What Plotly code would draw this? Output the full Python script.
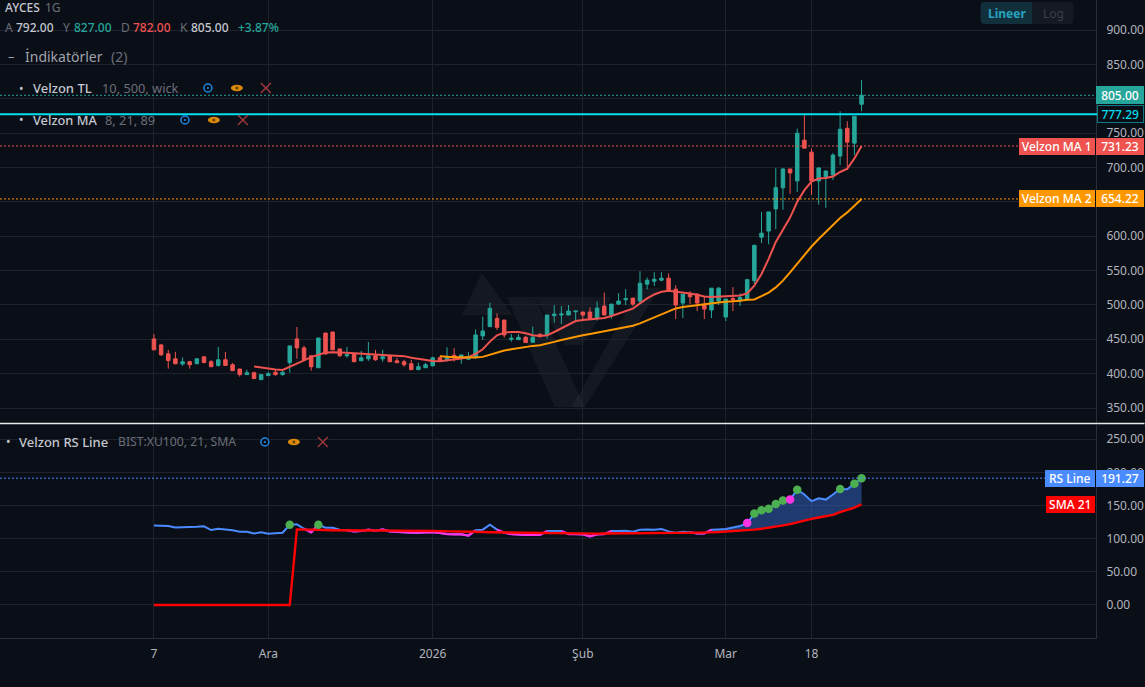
import plotly.graph_objects as go

W, H = 1145, 687
PLOT_W, PLOT_H = 1096.5, 638

BG = '#0a0e17'
GRID = '#1e222d'
AXIS = '#2a2e39'
TICK = '#b2b5be'
TEAL = '#26a69a'
RED = '#ef5350'
ORANGE = '#ff9800'
BLUE = '#4a8cff'
CYAN = '#00dfee'

# daily bars, 7 Kas 2025 -> Mar 2026
opens = [450.5,441.8,428.8,421.6,414,417.3,414.4,424.5,417.3,412,
         420.2,413,406.7,398.6,401.4,391.3,397.1,401.9,398.6,415.9,
         450.5,437.5,426,408.6,459.1,460.6,436,426,428.8,418.7,
         421.6,426,421.6,426,418.7,417.3,414.4,405.8,408.6,411.5,
         423,420.1,426.8,422.5,421,423.9,454.9,468.4,480.4,478,
         450,449.5,452.9,445.7,457.3,456.3,484.3,485.3,485.3,490.1,
         489.6,489.6,480.4,498.3,485.3,501.2,507.5,509.9,505.6,530.2,
         534.5,536,538.9,522.9,502.7,515.7,515.7,499.8,492.5,505.6,
         482.4,509.4,506,507.4,535.3,598.5,607.4,639.7,670.3,697.8,
         680.4,739.7,722.3,680.4,686.2,689.1,716.6,757,735.4,792]
highs = [457.7,443.3,434.6,431.7,423.6,418.7,422,425,419.7,438.9,
         431.7,415.4,407.2,405.8,402.9,399.5,402.9,405.8,404.3,440.4,
         467.8,440.4,426,451.9,459.1,460.6,436,438.9,428.8,433.2,
         446.2,434.6,434.6,426,423.1,420.2,420.2,415.9,415.9,424.5,
         424.9,438.4,437,427.3,431.2,464.5,482.9,503.1,487.7,478,
         457.7,457.7,454.8,468.4,458.7,485.3,499.8,498.3,499.8,491.1,
         490.1,496.4,505.1,518.1,501.2,517.2,523,510.4,549,539.9,
         547.6,547.6,545.7,528.7,515.7,520,516.7,512.8,524.4,525.9,
         508.5,525.9,517,537.4,586.8,635.3,635.3,699.2,699.2,697.8,
         756.6,775.9,727.7,700.2,694.9,720.9,781.7,767.2,774.4,827]
lows = [434.6,426,407.2,413.5,411.5,407.2,414.4,414.9,410.1,410.1,
        411.5,404.3,395.7,398.6,392.8,391.3,397.1,397.1,397.1,401.4,
        421.6,418.7,404.3,408.6,427.4,434.6,424.5,423.1,417.3,418.7,
        418.7,418.7,417.3,417.3,415.9,410.1,405.8,405.8,408.6,410.6,
        417.7,417.7,417.7,414.3,420.1,422,449,468.4,463.5,452.4,
        446.6,449.5,445.2,445.7,452.4,451,474.2,472.2,485.3,475.6,
        478,478,477.1,485.3,480,499.8,499.8,498.3,502.2,522.5,
        527.3,534.5,519.1,479.5,480.9,501.2,491.1,479.5,480.9,499.8,
        476.6,491.1,498.5,506,530.4,590.2,588.2,610.3,638.4,661.6,
        664.5,728.1,660.1,645.7,641.3,681.8,703.5,696.3,718,782]
closes = [434.6,427.4,419.2,414.4,417.3,413,421.6,416.3,410.1,420.2,
          412,404.3,398.6,401.4,392.8,398.6,400,398.6,401.9,440.4,
          437.5,420.2,410.1,451.9,428.8,434.6,426,427.4,417.3,423.1,
          426,420.2,424.5,417.3,415.9,413,405.8,410.1,413,423.1,
          419.1,423.9,423.9,427.3,424.9,456.3,462.1,494.9,467.4,456.3,
          451.5,452.9,445.2,452.9,453.9,485.3,486.7,486.7,491.1,491.1,
          485.3,479,495.4,485.3,501.2,505.6,509.4,501.2,531.6,536,
          537.4,538.9,520,499.8,515.7,511.8,502.7,494,524.4,524.4,
          508.5,508,510.8,536.8,586.8,604.4,635.3,670.6,697.8,692,
          749.8,728.1,680.4,699.2,694.9,718,755.6,736.8,774.4,805]

# Velzon MA 1 starts at bar 14, MA 2 at bar 40
ma1_start = 14
ma1 = [410.6,408.8,407.2,406.2,405.3,409.6,414.4,419.2,424,427.9,
       430.8,431.2,431.2,430.4,429.8,429.3,428.8,428.3,427.9,427.4,
       426.9,425.5,423.1,421.2,419.2,418.3,418.1,419.1,421,422,
       423.9,428.8,435.5,446.6,455.8,459.7,460.6,460.6,458.7,455.8,
       454.9,455.8,460.6,466,471.8,476.6,478,479,480,480.9,
       483.8,487.7,491.6,494.5,502.2,509.4,515.2,519.1,520.5,519.6,
       518.1,516.7,514.7,512.3,511.4,511.8,512.8,513.3,513.8,516.7,
       528,545,567,591.7,609.8,627,650,667,679.4,683.8,
       684.7,686.7,693.4,698.2,713.2,731.23]
ma2_start = 40
ma2 = [425.4,424.4,424,424,423.5,423.5,424.4,427.8,430.7,433.6,
       435.5,437.5,438.9,440.4,441.3,443.3,446.2,449,451.5,453.9,
       455.8,457.7,459.7,461.6,463.5,465,466.9,469.8,473.2,477.6,
       482.4,487.2,491.6,494.9,496.9,498.3,500.3,501.7,503.2,503.6,
       504.6,505.1,506,507.5,508,512.7,518,525.5,535.3,547.3,
       560,573,585,596,606,616,626.4,634.6,644,654.22]

rs_line = [120,119.6,119,117,117,117.6,118,118.6,113,115,
           114,112.6,110.6,110.6,108,109.6,107.6,108,109,121,
           121.6,115,109.6,121,116.6,116.6,113.6,112.6,111,111.6,
           113.6,112,114,111,110,109.6,109,109,109.6,110,
           108.6,107,106.6,106.6,104.6,112.6,113.6,121,113.6,109,
           107,106,105.6,105.6,105.6,111.6,112,111.6,107,107,
           106.6,103.5,106.6,107,111.6,111.6,112,110.6,113.6,114,
           113.6,114.6,111,109,110.6,109.6,108,108,113.6,114,
           114.6,117,119,123.7,137.9,143,145,152.5,157.6,159,
           174,166.7,156.6,161,159,166.7,175,174.7,183,191.27]
rs_sma = [0,0,0,0,0,0,0,0,0,0,
          0,0,0,0,0,0,0,0,0,0,
          114,113.5,113,113,113,112.8,112.8,112.6,112.6,112.6,
          112.6,112.6,112.6,112.4,112.4,112.2,112.2,112,112,111.8,
          111.4,111,110.8,110.6,110.4,110.2,110,109.8,109.6,109.4,
          109.2,109,108.8,108.8,108.6,108.6,108.4,108.2,108,108,
          107.8,107.6,107.6,107.8,108,108,108.2,108.4,108.4,108.6,
          108.8,108.8,108.8,108.8,108.8,108.8,109,109,109.6,110,
          110.6,111,111.8,112.6,113.6,115,116.4,118,120,122,
          124.8,127,130,132,134,136,140,143,147,152]
fill_start = 78
green_dots = [19, 23, 84, 85, 86, 87, 88, 90, 96, 98, 99]
pink_dots = [83, 89]

last_close = 805.00
tl_level = 777.29
ma1_last = 731.23
ma2_last = 654.22
rs_last = 191.27
sma_tag = 151.6

price_ticks = [350, 400, 450, 500, 550, 600, 650, 700, 750, 800, 850, 900]
hidden_ticks = [650, 800]  # covered by the price tags in the original
rs_ticks = [0, 50, 100, 150, 200, 250]
date_ticks = [0, 16, 39, 60, 80, 92]
date_labels = ['7', 'Ara', '2026', 'Şub', 'Mar', '18']

bars = list(range(len(closes)))

# pixel -> paper helpers
def px(x):
    return x / PLOT_W

def py(y):
    return (PLOT_H - y) / PLOT_H

fig = go.Figure()
fig.add_trace(go.Candlestick(x=bars, open=opens, high=highs, low=lows, close=closes,
                             increasing=dict(line=dict(color=TEAL, width=1), fillcolor=TEAL),
                             decreasing=dict(line=dict(color=RED, width=1), fillcolor=RED),
                             whiskerwidth=0, xaxis='x', yaxis='y', showlegend=False))
fig.add_trace(go.Scatter(x=bars[ma1_start:], y=ma1, mode='lines', line=dict(color=RED, width=2), yaxis='y'))
fig.add_trace(go.Scatter(x=bars[ma2_start:], y=ma2, mode='lines', line=dict(color=ORANGE, width=2), yaxis='y'))

# RS pane: fill first so the lines stay on top
fig.add_trace(go.Scatter(x=bars[fill_start:], y=rs_sma[fill_start:], mode='lines',
                         line=dict(width=0, color=BG), yaxis='y2'))
fig.add_trace(go.Scatter(x=bars[fill_start:], y=rs_line[fill_start:], mode='lines', line=dict(width=0, color=BG),
                         fill='tonexty', fillcolor='rgba(52,102,197,0.5)', yaxis='y2'))
fig.add_trace(go.Scatter(x=bars, y=rs_line, mode='lines', line=dict(color=BLUE, width=2), yaxis='y2'))

# RS below its SMA goes pink, neighbours included so single bars still draw
below = [v < s for v, s in zip(rs_line, rs_sma)]
under = []
for i, v in enumerate(rs_line):
    near = below[max(i - 1, 0):i + 2]
    under.append(v if any(near) else None)
fig.add_trace(go.Scatter(x=bars, y=under, mode='lines', line=dict(color='#ff33e6', width=2.2), yaxis='y2'))
fig.add_trace(go.Scatter(x=bars, y=rs_sma, mode='lines', line=dict(color='#ff0000', width=2.4), yaxis='y2'))
fig.add_trace(go.Scatter(x=green_dots, y=[rs_line[i] for i in green_dots], mode='markers',
                         marker=dict(color='#4caf50', size=8.5), yaxis='y2'))
fig.add_trace(go.Scatter(x=pink_dots, y=[rs_line[i] for i in pink_dots], mode='markers',
                         marker=dict(color='#ff33e6', size=8.5), yaxis='y2'))

shapes = []
annots = []

def level(y, color, yref='y', dash='2px,2px', width=1, x1=1):
    shapes.append(dict(type='line', xref='paper', yref=yref, x0=0, x1=x1, y0=y, y1=y,
                       line=dict(color=color, width=width, dash=dash)))

level(last_close, TEAL)
level(ma1_last, RED)
level(ma2_last, ORANGE)
level(rs_last, BLUE, yref='y2')
level(tl_level, CYAN, dash='solid', width=2, x1=px(1098))

# white pane separator
shapes.append(dict(type='line', xref='paper', yref='paper', x0=0, x1=W / PLOT_W, y0=py(423.5), y1=py(423.5),
                   line=dict(color='#e8e8e8', width=1.5)))

def poly(points, color, layer='below'):
    path = 'M ' + ' L '.join(f'{px(x)},{py(y)}' for x, y in points) + ' Z'
    shapes.append(dict(type='path', xref='paper', yref='paper', path=path, fillcolor=color,
                       line=dict(width=0), layer=layer))

# faint logo behind the candles
mark = 'rgba(255,255,255,0.045)'
poly([(462, 315), (482, 273), (513, 315)], mark)
poly([(507, 297), (535, 297), (585, 407), (555, 407)], mark)
poly([(535, 297), (612, 297), (583, 345), (565, 345)], mark)
poly([(660, 288), (640, 288), (572, 407), (585, 407)], mark)

def rrect(x0, y0, x1, y1, color, left=True, right=True, r=4):
    a, b = (r if left else 0), (r if right else 0)
    path = (f'M {px(x0 + a)},{py(y0)} L {px(x1 - b)},{py(y0)} Q {px(x1)},{py(y0)} {px(x1)},{py(y0 + b)} '
            f'L {px(x1)},{py(y1 - b)} Q {px(x1)},{py(y1)} {px(x1 - b)},{py(y1)} L {px(x0 + a)},{py(y1)} '
            f'Q {px(x0)},{py(y1)} {px(x0)},{py(y1 - a)} L {px(x0)},{py(y0 + a)} Q {px(x0)},{py(y0)} {px(x0 + a)},{py(y0)} Z')
    shapes.append(dict(type='path', xref='paper', yref='paper', path=path, fillcolor=color, line=dict(width=0)))

rrect(981, 2, 1033, 24, '#12303c', right=False)
rrect(1033, 2, 1074, 24, '#141922', left=False)

def circle(cx, cy, rx, ry, fill, line=None, lw=0):
    shapes.append(dict(type='circle', xref='paper', yref='paper', x0=px(cx - rx), x1=px(cx + rx),
                       y0=py(cy + ry), y1=py(cy - ry), fillcolor=fill,
                       line=dict(color=line or fill, width=lw)))

def icons(xg, xe, xx, y):
    circle(xg, y, 4, 4, BG, '#1e88e5', 1.5)
    circle(xg, y, 1.1, 1.1, '#1e88e5')
    circle(xe, y, 6, 3.3, '#d98a0b')
    circle(xe, y, 1.5, 1.5, '#6b4308')
    for sign in (1, -1):
        shapes.append(dict(type='line', xref='paper', yref='paper', x0=px(xx - 5), x1=px(xx + 5),
                           y0=py(y - 5 * sign), y1=py(y + 5 * sign), line=dict(color='#a83a3e', width=1.2)))

icons(208, 237, 266, 88)
icons(185, 214, 243, 120)
icons(265, 294, 323, 442)

def label(x, y, text, color, size=12, anchor='left', weight=None):
    annots.append(dict(xref='paper', yref='paper', x=px(x), y=py(y), text=text, showarrow=False,
                       xanchor=anchor, yanchor='middle', align='left',
                       font=dict(family='Noto Sans', size=size, color=color, weight=weight or 400),
                       borderpad=0, borderwidth=0))

GREY = '#6a6e78'
LIGHT = '#c4c7ce'
label(5, 8, 'AYCES', LIGHT, 12, weight=500)
label(45, 8, '1G', GREY, 12)
for x, t, c in [(5, 'A', GREY), (16, '792.00', LIGHT), (63, 'Y', GREY), (74, '827.00', TEAL),
                (121, 'D', GREY), (133, '782.00', RED), (180, 'K', GREY), (191, '805.00', LIGHT),
                (238, '+3.87%', TEAL)]:
    label(x, 27, t, c, 12, weight=500 if c != GREY else 400)

label(8, 56, '–', '#9a9da6', 13)
label(25, 57, 'İndikatörler', '#a0a3ab', 14)
label(111, 57, '(2)', GREY, 14)
label(19, 88, '•', LIGHT, 12)
label(33, 88, 'Velzon TL', LIGHT, 13, weight=500)
label(102, 88, '10, 500, wick', GREY, 12.8)
label(19, 120, '•', LIGHT, 12)
label(33, 120, 'Velzon MA', LIGHT, 12.8, weight=500)
label(105, 120, '8, 21, 89', GREY, 12.8)
label(6, 442, '•', LIGHT, 12)
label(19, 442, 'Velzon RS Line', LIGHT, 13, weight=500)
label(118, 442, 'BIST:XU100, 21, SMA', GREY, 12.2)

label(1007, 13, '<b>Lineer</b>', '#26a3c0', 12, anchor='center')
label(1053.5, 13, 'Log', '#3a3f4a', 12, anchor='center')

def tag(x0, x1, y, yref, text, bg, color='#ffffff', border=None, h=17):
    annots.append(dict(xref='paper', yref=yref, x=px(x0), y=y, text=text, showarrow=False,
                       xanchor='left', yanchor='middle', align='center', width=x1 - x0 - (2 if border else 0),
                       height=h - 2 if border else h, bgcolor=bg, bordercolor=border or bg,
                       borderwidth=1 if border else 0, borderpad=0,
                       font=dict(family='Noto Sans', size=12, color=color, weight=500)))

tag(1096.5, 1144.5, last_close, 'y', '805.00', TEAL, h=18)
tag(1098, 1144.5, tl_level, 'y', '777.29', BG, CYAN, '#0b7a85', h=18)
tag(1019, 1094.5, ma1_last, 'y', 'Velzon MA 1', RED)
tag(1096.5, 1144.5, ma1_last, 'y', '731.23', RED)
tag(1019, 1094.5, ma2_last, 'y', 'Velzon MA 2', ORANGE)
tag(1096.5, 1144.5, ma2_last, 'y', '654.22', ORANGE)
tag(1045, 1094.5, rs_last, 'y2', 'RS Line', BLUE)
tag(1096.5, 1144.5, rs_last, 'y2', '191.27', BLUE)
tag(1046, 1094.5, sma_tag, 'y2', 'SMA 21', '#ff0000')

tick_font = dict(family='Noto Sans', size=12, color=TICK)
price_text = ['' if v in hidden_ticks else f'{v:.2f}' for v in price_ticks]

fig.update_layout(
    width=W, height=H,
    margin=dict(l=0, r=W - PLOT_W, t=0, b=H - PLOT_H, pad=0),
    paper_bgcolor=BG, plot_bgcolor=BG,
    showlegend=False, hovermode=False,
    shapes=shapes, annotations=annots,
    xaxis=dict(domain=[0, 1], anchor='y2', range=[-21.54, 131.8], tickmode='array',
               tickvals=date_ticks, ticktext=date_labels, tickfont=tick_font, ticks='', ticklabelstandoff=5,
               showgrid=True, gridcolor=GRID, gridwidth=1, zeroline=False, rangeslider=dict(visible=False),
               showline=True, linecolor=AXIS, linewidth=1),
    yaxis=dict(domain=[py(423), 1], anchor='x', side='right', range=[328.2, 943.65], tickmode='array',
               tickvals=price_ticks, ticktext=price_text, tickfont=tick_font, ticks='',
               ticklabelstandoff=7, showgrid=True, gridcolor=GRID, gridwidth=1, zeroline=False,
               showline=True, linecolor=AXIS, linewidth=1),
    yaxis2=dict(domain=[0, py(425)], anchor='x', side='right', range=[-49.8, 271.5], tickmode='array',
                tickvals=rs_ticks, ticktext=[f'{v:.2f}' for v in rs_ticks], tickfont=tick_font, ticks='',
                ticklabelstandoff=7, showgrid=True, gridcolor=GRID, gridwidth=1, zeroline=False,
                showline=True, linecolor=AXIS, linewidth=1),
)

fig.write_html("out.html", config={'displayModeBar': False},
               post_script="document.body.style.margin='0';document.body.style.background='#0a0e17';")
